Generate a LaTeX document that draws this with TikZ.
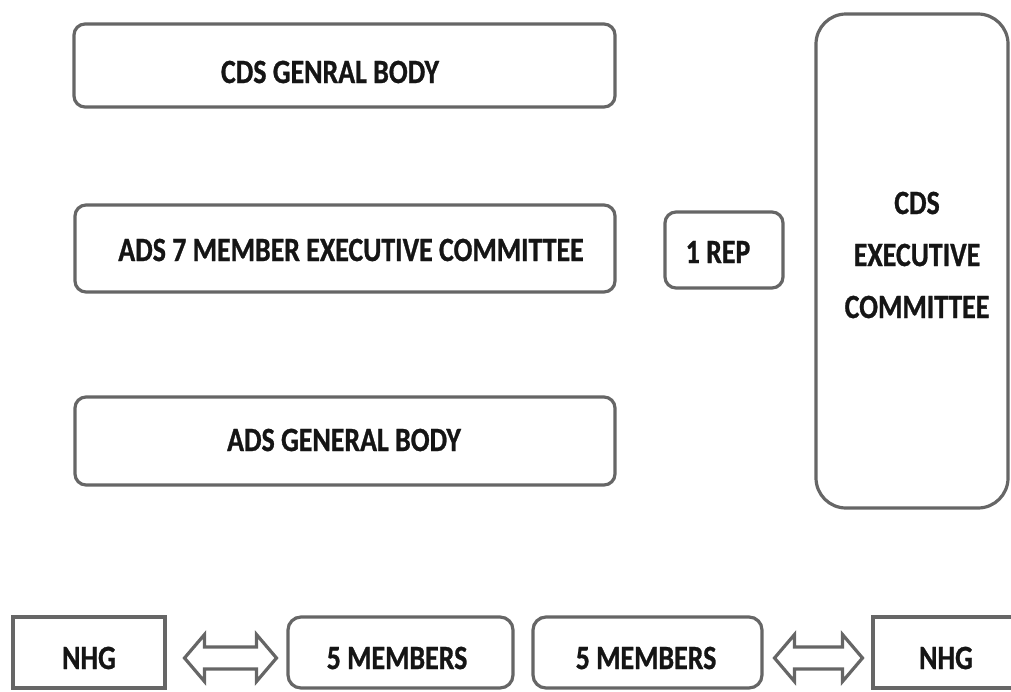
\documentclass[tikz,border=0pt]{standalone}
\usepackage{fontspec}
\setmainfont{Carlito}[FakeStretch=0.82,FakeBold=0.8]
\usetikzlibrary{calc}
\definecolor{edge}{HTML}{666666}
\definecolor{ink}{HTML}{151515}
\tikzset{
  box/.style={draw=edge, line width=3.2pt, rounded corners=11pt, inner sep=0pt, fill=white},
  sqbox/.style={draw=edge, line width=3.2pt, inner sep=0pt, fill=white},
  lbl/.style={text=ink, font=\fontsize{34}{52}\selectfont\bfseries, inner sep=0pt, align=center},
  dblarrow/.style={draw=edge, line width=3.2pt, fill=white, line join=miter}
}
\begin{document}
\begin{tikzpicture}[x=1pt,y=-1pt]
\useasboundingbox (0,0) rectangle (1011,691);
\begin{scope}
\clip (0,0) rectangle (1011,691);
% boxes
\node[box, minimum width=541pt, minimum height=83pt] (b1) at (344.5,65.5) {};
\node[box, minimum width=540pt, minimum height=87pt] (b2) at (345,248.5) {};
\node[box, minimum width=540pt, minimum height=88pt] (b3) at (345,441) {};
\node[box, minimum width=118pt, minimum height=76pt] (rep) at (724,250) {};
\node[box, rounded corners=30pt, minimum width=192pt, minimum height=494pt] (cds) at (912,261) {};
\node[sqbox, minimum width=152pt, minimum height=71pt] (nhg1) at (89,652.5) {};
\node[box, rounded corners=13pt, minimum width=225pt, minimum height=71pt] (m1) at (400.5,652.5) {};
\node[box, rounded corners=13pt, minimum width=229pt, minimum height=71pt] (m2) at (647.5,652.5) {};
\node[sqbox, minimum width=150pt, minimum height=71pt] (nhg2) at (948,652.5) {};
% texts
\node[lbl] (t1) at (330,72) {CDS GENRAL BODY};
\node[lbl] (t2) at (351,250) {ADS 7 MEMBER EXECUTIVE COMMITTEE};
\node[lbl] (t3) at (344,440) {ADS GENERAL BODY};
\node[lbl] (t4) at (718,252) {1 REP};
\node[lbl] (t5) at (917,255) {CDS\\EXECUTIVE\\COMMITTEE};
\node[lbl] (t6) at (89,658) {NHG};
\node[lbl] (t7) at (397,658) {5 MEMBERS};
\node[lbl] (t8) at (646,658) {5 MEMBERS};
\node[lbl] (t9) at (946,658) {NHG};
% double arrows
\path (nhg1.east) -- (m1.west) coordinate[pos=0.5] (a1);
\path (m2.east) -- (nhg2.west) coordinate[pos=0.5] (a2);
\coordinate (a1c) at ($(a1)+(4,5.5)$);
\coordinate (a2c) at ($(a2)+(1,5.5)$);
\foreach \c/\hw in {a1c/46, a2c/44}{
  \draw[dblarrow, shift={(\c)}]
    (-\hw,0) -- ({-\hw+20},-23.5) -- ({-\hw+20},-11) -- ({\hw-20},-11) -- ({\hw-20},-23.5)
    -- (\hw,0) -- ({\hw-20},23.5) -- ({\hw-20},11) -- ({-\hw+20},11) -- ({-\hw+20},23.5) -- cycle;
}
\end{scope}
\end{tikzpicture}
\end{document}
